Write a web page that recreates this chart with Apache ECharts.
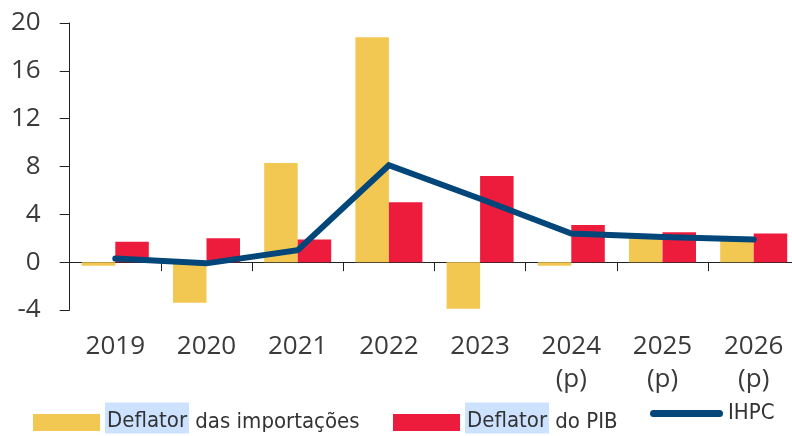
<!DOCTYPE html>
<html>
<head>
<meta charset="utf-8">
<script src="https://cdn.jsdelivr.net/npm/echarts@6/dist/echarts.min.js"></script>
<style>
  html, body { margin: 0; padding: 0; background: #fff; }
  #chart { width: 792px; height: 436px; }
</style>
</head>
<body>
<div id="chart"></div>
<script>
// Years (projections marked with "(p)")
const categories = ['2019', '2020', '2021', '2022', '2023', '2024\n(p)', '2025\n(p)', '2026\n(p)'];
// Annual rates of change, %
const importDeflator = [-0.3, -3.4, 8.3, 18.8, -3.9, -0.3, 2.0, 1.9];
const gdpDeflator = [1.7, 2.0, 1.9, 5.0, 7.2, 3.1, 2.5, 2.4];
const hicp = [0.3, -0.1, 1.0, 8.1, 5.3, 2.4, 2.1, 1.9];
// Value axis ticks
const yMin = -4, yMax = 20, yStep = 4;

const seriesNames = ['Deflator das importações', 'Deflator do PIB', 'IHPC'];
const colors = { imports: '#F2C752', gdp: '#EE1C3C', hicp: '#02467A' };

const axisFont = { fontFamily: '"Open Sans", "Noto Sans", sans-serif', fontSize: 26, color: '#3a3a3a' };
const legendFont = '"DejaVu Sans Condensed", "Liberation Sans Narrow", sans-serif';
const legendSize = 22;

// Legend text: the word "Deflator" sits on a light-blue band
const legendRich = {
  hl: { backgroundColor: '#CCE2FF', fontFamily: legendFont, fontSize: legendSize, color: '#333',
        lineHeight: 24, padding: [8, 2, 1, 2], verticalAlign: 'top' },
  n: { fontFamily: legendFont, fontSize: legendSize, color: '#333', lineHeight: 40 }
};
function legendLabel(name) {
  if (name.indexOf('Deflator') === 0) {
    return '{hl|Deflator}{n|' + name.slice('Deflator'.length) + '}';
  }
  return '{n|' + name + '}';
}
const legendBase = {
  top: 402.5, padding: 0, orient: 'horizontal', itemGap: 0, selectedMode: false,
  itemWidth: 67, itemHeight: 17, formatter: legendLabel,
  textStyle: { rich: legendRich, padding: [0, 0, 0, 0] }
};

const chart = echarts.init(document.getElementById('chart'), null, { renderer: 'canvas' });
chart.setOption({
  animation: false,
  backgroundColor: '#fff',
  grid: { left: 69.7, top: 23, width: 729.6, height: 287, containLabel: false, outerBoundsMode: 'none' },
  legend: [
    Object.assign({}, legendBase, { left: 33, data: [{ name: seriesNames[0], icon: 'rect' }] }),
    Object.assign({}, legendBase, { left: 393, data: [{ name: seriesNames[1], icon: 'rect' }] }),
    Object.assign({}, legendBase, {
      left: 650, itemWidth: 73, itemHeight: 7,
      data: [{ name: seriesNames[2],
        icon: 'path://M3.5,0H69.5A3.5,3.5,0,0,1,69.5,7H3.5A3.5,3.5,0,0,1,3.5,0Z',
        itemStyle: { color: colors.hicp } }]
    })
  ],
  xAxis: {
    type: 'category',
    data: categories,
    boundaryGap: true,
    axisLine: { onZero: true, lineStyle: { color: '#222', width: 1 } },
    axisTick: { show: true, length: 9, lineStyle: { color: '#222', width: 1 } },
    axisLabel: Object.assign({ margin: 20, lineHeight: 33, interval: 0 }, axisFont),
    splitLine: { show: false }
  },
  yAxis: {
    type: 'value',
    min: yMin, max: yMax, interval: yStep,
    axisLine: { show: true, lineStyle: { color: '#222', width: 1 } },
    axisTick: { show: true, length: 10, lineStyle: { color: '#222', width: 1 } },
    axisLabel: Object.assign({ margin: 29 }, axisFont),
    splitLine: { show: false }
  },
  series: [
    {
      name: seriesNames[0], type: 'bar', data: importDeflator,
      barWidth: 33.5, barGap: '0%',
      itemStyle: { color: colors.imports }
    },
    {
      name: seriesNames[1], type: 'bar', data: gdpDeflator,
      barWidth: 33.5, barGap: '0%',
      itemStyle: { color: colors.gdp }
    },
    {
      name: seriesNames[2], type: 'line', data: hicp,
      symbol: 'none', showSymbol: false, z: 5,
      lineStyle: { color: colors.hicp, width: 6, cap: 'round', join: 'miter' },
      itemStyle: { color: colors.hicp }
    }
  ]
});
</script>
</body>
</html>
